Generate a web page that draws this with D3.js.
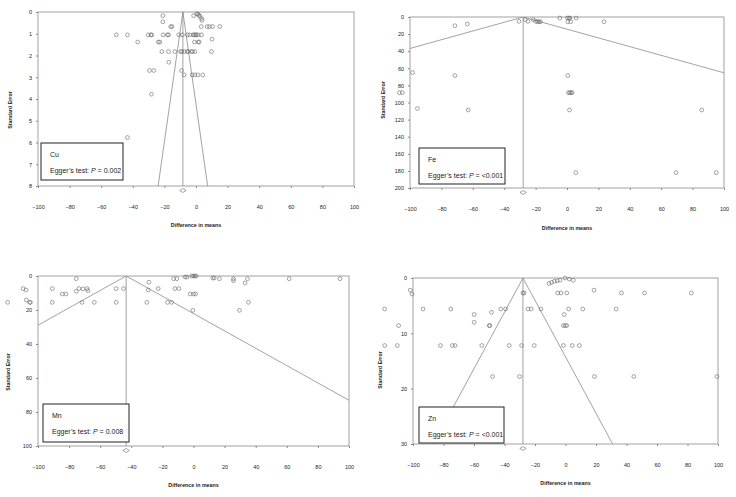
<!DOCTYPE html>
<html>
<head>
<meta charset="utf-8">
<script src="https://cdn.jsdelivr.net/npm/d3@7"></script>
<style>
body { margin: 0; background: #fff; }
text { font-family: "Liberation Sans", Arial, sans-serif; fill: #222; }
</style>
</head>
<body>
<svg id="chart" width="736" height="497"></svg>
<script>
// x ticks shared by all four funnel plots
var xTicks = [-100, -80, -60, -40, -20, 0, 20, 40, 60, 80, 100];

// Cu
var cuDiff = [-21, -21, -1.5, 0.5, 1.2, 1.8, 2.5, 3.5, 3.8,
  -16, -15.2, 3.3, 7, 8.5, 10.5, 15,
  -50.4, -43.4, -30.3, -28.6, -28, -20.8, -18.1, -17.4, -10.9, -8.6, -5.4, -3.9, -1.8, -1.2, -0.3, 0.3, 1.4, 3.5,
  10.2, -36.9, -23.8, -22.9, -1, 1.4, 2,
  -21.6, -17.4, -13.4, -9.8, -9, -7.5, -5.6, -4.8, -2.9, -2.2, -0.7, 9.8,
  -17.2, -29.5, -26.7, -9.2, -7.5, -2.4, -0.7, 1.2, 4.3, -28.2, -43.4];
var cuSE = [0.17, 0.45, 0.17, 0.08, 0.1, 0.15, 0.2, 0.3, 0.38,
  0.67, 0.67, 0.67, 0.67, 0.67, 0.67, 0.67,
  1.05, 1.05, 1.05, 1.05, 1.05, 1.05, 1.05, 1.05, 1.05, 1.05, 1.05, 1.05, 1.05, 1.05, 1.05, 1.05, 1.05, 1.05,
  1.25, 1.38, 1.38, 1.38, 1.38, 1.38, 1.38,
  1.82, 1.82, 1.82, 1.82, 1.82, 1.82, 1.82, 1.82, 1.82, 1.82, 1.82, 1.82,
  2.31, 2.69, 2.69, 2.69, 2.89, 2.89, 2.89, 2.89, 2.89, 3.78, 5.77];
var cuMean = -8.3;
var cuYTicks = [0, 1, 2, 3, 4, 5, 6, 7, 8];

// Fe
var feDiff = [-71.4, -63.5, -30.6, -26.6, -24.9, -21.5, -20, -18.8, -17.9, -16.9,
  -4.6, 0.3, 1.2, 1.8, 5.8, 0.5, 2.4, 23.6,
  -98.3, -71.4, 0.5, -106.8, -104.9, 0.95, 1.8, 2.6, 3.3,
  -95.3, -62.9, 1.6, 85.8, 5.6, 69.5, 95.1];
var feSE = [10.2, 8.2, 5.1, 3.1, 5.1, 3.1, 5, 5.5, 5.5, 5.5,
  1.2, 1.2, 1.2, 1.2, 1.2, 5.5, 5.5, 5.5,
  65, 68.5, 68.5, 88.5, 88.5, 88.5, 88.5, 88.5, 88.5,
  107, 108.8, 108.8, 108.8, 182, 182, 182];
var feMean = -27.9;
var feYTicks = [0, 20, 40, 60, 80, 100, 120, 140, 160, 180, 200];

// Mn
var mnDiff = [-119.5, -109.6, -107.7, -107.5, -105.4, -104.9, -90.8, -90.8, -84.4, -82,
  -75.4, -75.4, -73.7, -71.1, -71.7, -68.5, -67.9, -63.8, -49.7, -49.7, -45,
  -28.7, -29.1, -30, -22.7, -12.8, -10.7, -12, -9.4, -16.7, -14.1,
  -5.4, -4.3, -1.1, 0, 0.9, 1.7, -2.1, 0, 1.3, -0.4,
  12.4, 13.3, 16.7, 25.7, 25.7, 33.2, 34.7, 35.3, 29.6, 61.5, 94.2];
var mnSE = [15.5, 7.4, 8.2, 14.1, 15.5, 15.5, 7.4, 15.5, 10.6, 10.6,
  1.6, 9, 7.4, 7.6, 15.5, 7.4, 8.6, 15.5, 7.4, 15.5, 7.4,
  3.7, 8.2, 15.5, 7.4, 1.6, 1.6, 7.4, 7.4, 15.5, 15.5,
  0.6, 0.6, 0, 0, 0, 0, 10.6, 10.6, 10.6, 20.2,
  1.2, 1.2, 1.6, 1.6, 2.7, 4.1, 1.6, 15.5, 20.2, 1.6, 1.6];
var mnMean = -43.3;
var mnYTicks = [0, 20, 40, 60, 80, 100];

// Zn
var znDiff = [-101.8, -100.7, -118.6, -93.4, -75.2, -109.4, -118.6, -110.3, -82, -74.2, -72.4,
  -59.9, -59.9, -50, -49.6, -48.5, -42.4, -39.3, -54.9, -36.9, -28.8, -20.5, -47.9, -30.1,
  -27.9, -27.1, -24.6, -22.5, -16.1,
  -10.8, -9.1, -7.3, -5.4, -3.6, -0.3, 2.5, 5.1,
  -5.1, -3, 0.8, -0.8, -1.4, -0.1, 0.8, 2.1, -1.4, 4.5, 9.1, 11.3,
  18.7, 19, 33.2, 36.7, 44.8, 51.8, 82.5, 99.3];
var znSE = [2.2, 2.9, 5.6, 5.6, 5.6, 8.6, 12.2, 12.2, 12.2, 12.2, 12.2,
  6.6, 8, 8.6, 8.6, 6.2, 5.6, 5.6, 12.2, 12.2, 12.2, 12.2, 17.8, 17.8,
  2.7, 2.7, 5.6, 5.6, 5.6,
  1, 0.8, 0.6, 0.5, 0.4, 0, 0.2, 0.4,
  2.7, 2.7, 2.7, 6.6, 8.6, 8.6, 8.6, 5.6, 12.2, 12.2, 12.2, 5.6,
  2.2, 17.8, 5.6, 2.7, 17.8, 2.7, 2.7, 17.8];
var znMean = -27.9;
var znYTicks = [0, 10, 20, 30];

var elements = ["Cu", "Fe", "Mn", "Zn"];
var eggerP = ["0.002", "<0.001", "0.008", "<0.001"];

var svg = d3.select("#chart");

var panels = [
  {diff: cuDiff, se: cuSE, mean: cuMean, yTicks: cuYTicks, x0: 38, x1: 354, y0: 12, y1: 186, titleY: 227, ylx: 12, yly: 110, box: [41, 143, 82, 37]},
  {diff: feDiff, se: feSE, mean: feMean, yTicks: feYTicks, x0: 410, x1: 724, y0: 17, y1: 188, titleY: 230, ylx: 385, yly: 100, box: [419, 148, 86, 36]},
  {diff: mnDiff, se: mnSE, mean: mnMean, yTicks: mnYTicks, x0: 38, x1: 349, y0: 276, y1: 446, titleY: 487, ylx: 10, yly: 372, box: [43, 404, 86, 38]},
  {diff: znDiff, se: znSE, mean: znMean, yTicks: znYTicks, x0: 413, x1: 718, y0: 278, y1: 444, titleY: 485, ylx: 382, yly: 370, box: [419, 407, 85, 36]}
];

panels.forEach(function(p, i) {
  var ymax = p.yTicks[p.yTicks.length - 1];
  var x = d3.scaleLinear().domain([-100, 100]).range([p.x0, p.x1]);
  var y = d3.scaleLinear().domain([0, ymax]).range([p.y0, p.y1]);
  var g = svg.append("g");

  var clipId = "clip" + i;
  svg.append("clipPath").attr("id", clipId)
    .append("rect").attr("x", p.x0).attr("y", p.y0)
    .attr("width", p.x1 - p.x0).attr("height", p.y1 - p.y0);

  // frame
  g.append("rect").attr("x", p.x0).attr("y", p.y0)
    .attr("width", p.x1 - p.x0).attr("height", p.y1 - p.y0)
    .attr("fill", "none").attr("stroke", "#8a8a8a").attr("stroke-width", 0.8);

  // y axis
  var yAxis = d3.axisLeft(y).tickValues(p.yTicks).tickSize(2).tickPadding(4).tickFormat(d3.format("d"));
  var ya = g.append("g").attr("transform", "translate(" + p.x0 + ",0)").call(yAxis);
  ya.select(".domain").remove();
  ya.selectAll("line").attr("stroke", "#8a8a8a");
  ya.selectAll("text").style("font-size", "5.5px").attr("fill", "#333");

  // x axis ticks on the bottom line, labels lower down
  var xAxis = d3.axisBottom(x).tickValues(xTicks).tickSize(2).tickPadding(17).tickFormat(d3.format("d"));
  var xa = g.append("g").attr("transform", "translate(0," + p.y1 + ")").call(xAxis);
  xa.select(".domain").remove();
  xa.selectAll("line").attr("stroke", "#8a8a8a");
  xa.selectAll("text").style("font-size", "5.5px").attr("fill", "#333");

  // funnel and mean line
  var fl = g.append("g").attr("clip-path", "url(#" + clipId + ")");
  var lineGen = d3.line().x(function(d) { return x(d[0]); }).y(function(d) { return y(d[1]); });
  var funnel = [[p.mean - 1.96 * ymax, ymax], [p.mean, 0], [p.mean + 1.96 * ymax, ymax]];
  fl.append("path").attr("d", lineGen(funnel))
    .attr("fill", "none").attr("stroke", "#8a8a8a").attr("stroke-width", 0.8);
  fl.append("path").attr("d", lineGen([[p.mean, 0], [p.mean, ymax]]))
    .attr("fill", "none").attr("stroke", "#8a8a8a").attr("stroke-width", 0.8);

  // studies
  var pts = p.diff.map(function(d, k) { return [d, p.se[k]]; });
  g.append("g").selectAll("circle").data(pts).enter().append("circle")
    .attr("cx", function(d) { return x(d[0]); })
    .attr("cy", function(d) { return y(d[1]); })
    .attr("r", 1.9)
    .attr("fill", "none").attr("stroke", "#666").attr("stroke-width", 0.6);

  // summary diamond
  var dx = x(p.mean), dy = p.y1 + 4.5;
  g.append("path")
    .attr("d", "M" + (dx - 3.2) + "," + dy + "L" + dx + "," + (dy - 2) + "L" + (dx + 3.2) + "," + dy + "L" + dx + "," + (dy + 2) + "Z")
    .attr("fill", "none").attr("stroke", "#666").attr("stroke-width", 0.6);

  // axis titles
  g.append("text").attr("x", (p.x0 + p.x1) / 2).attr("y", p.titleY)
    .attr("text-anchor", "middle").style("font-size", "5.3px").style("font-weight", "bold")
    .text("Difference in means");
  g.append("text").attr("transform", "translate(" + p.ylx + "," + p.yly + ") rotate(-90)")
    .attr("text-anchor", "middle").style("font-size", "5.3px").style("font-weight", "bold")
    .text("Standard Error");

  // label box
  var b = p.box;
  g.append("rect").attr("x", b[0]).attr("y", b[1]).attr("width", b[2]).attr("height", b[3])
    .attr("fill", "#fff").attr("stroke", "#222").attr("stroke-width", 1);
  g.append("text").attr("x", b[0] + 9).attr("y", b[1] + 14)
    .style("font-size", "7px").text(elements[i]);
  var t = g.append("text").attr("x", b[0] + 9).attr("y", b[1] + 30).style("font-size", "7px");
  t.append("tspan").text("Egger\u2019s test: ");
  t.append("tspan").style("font-style", "italic").text("P");
  t.append("tspan").text(" = " + eggerP[i]);
});
</script>
</body>
</html>
